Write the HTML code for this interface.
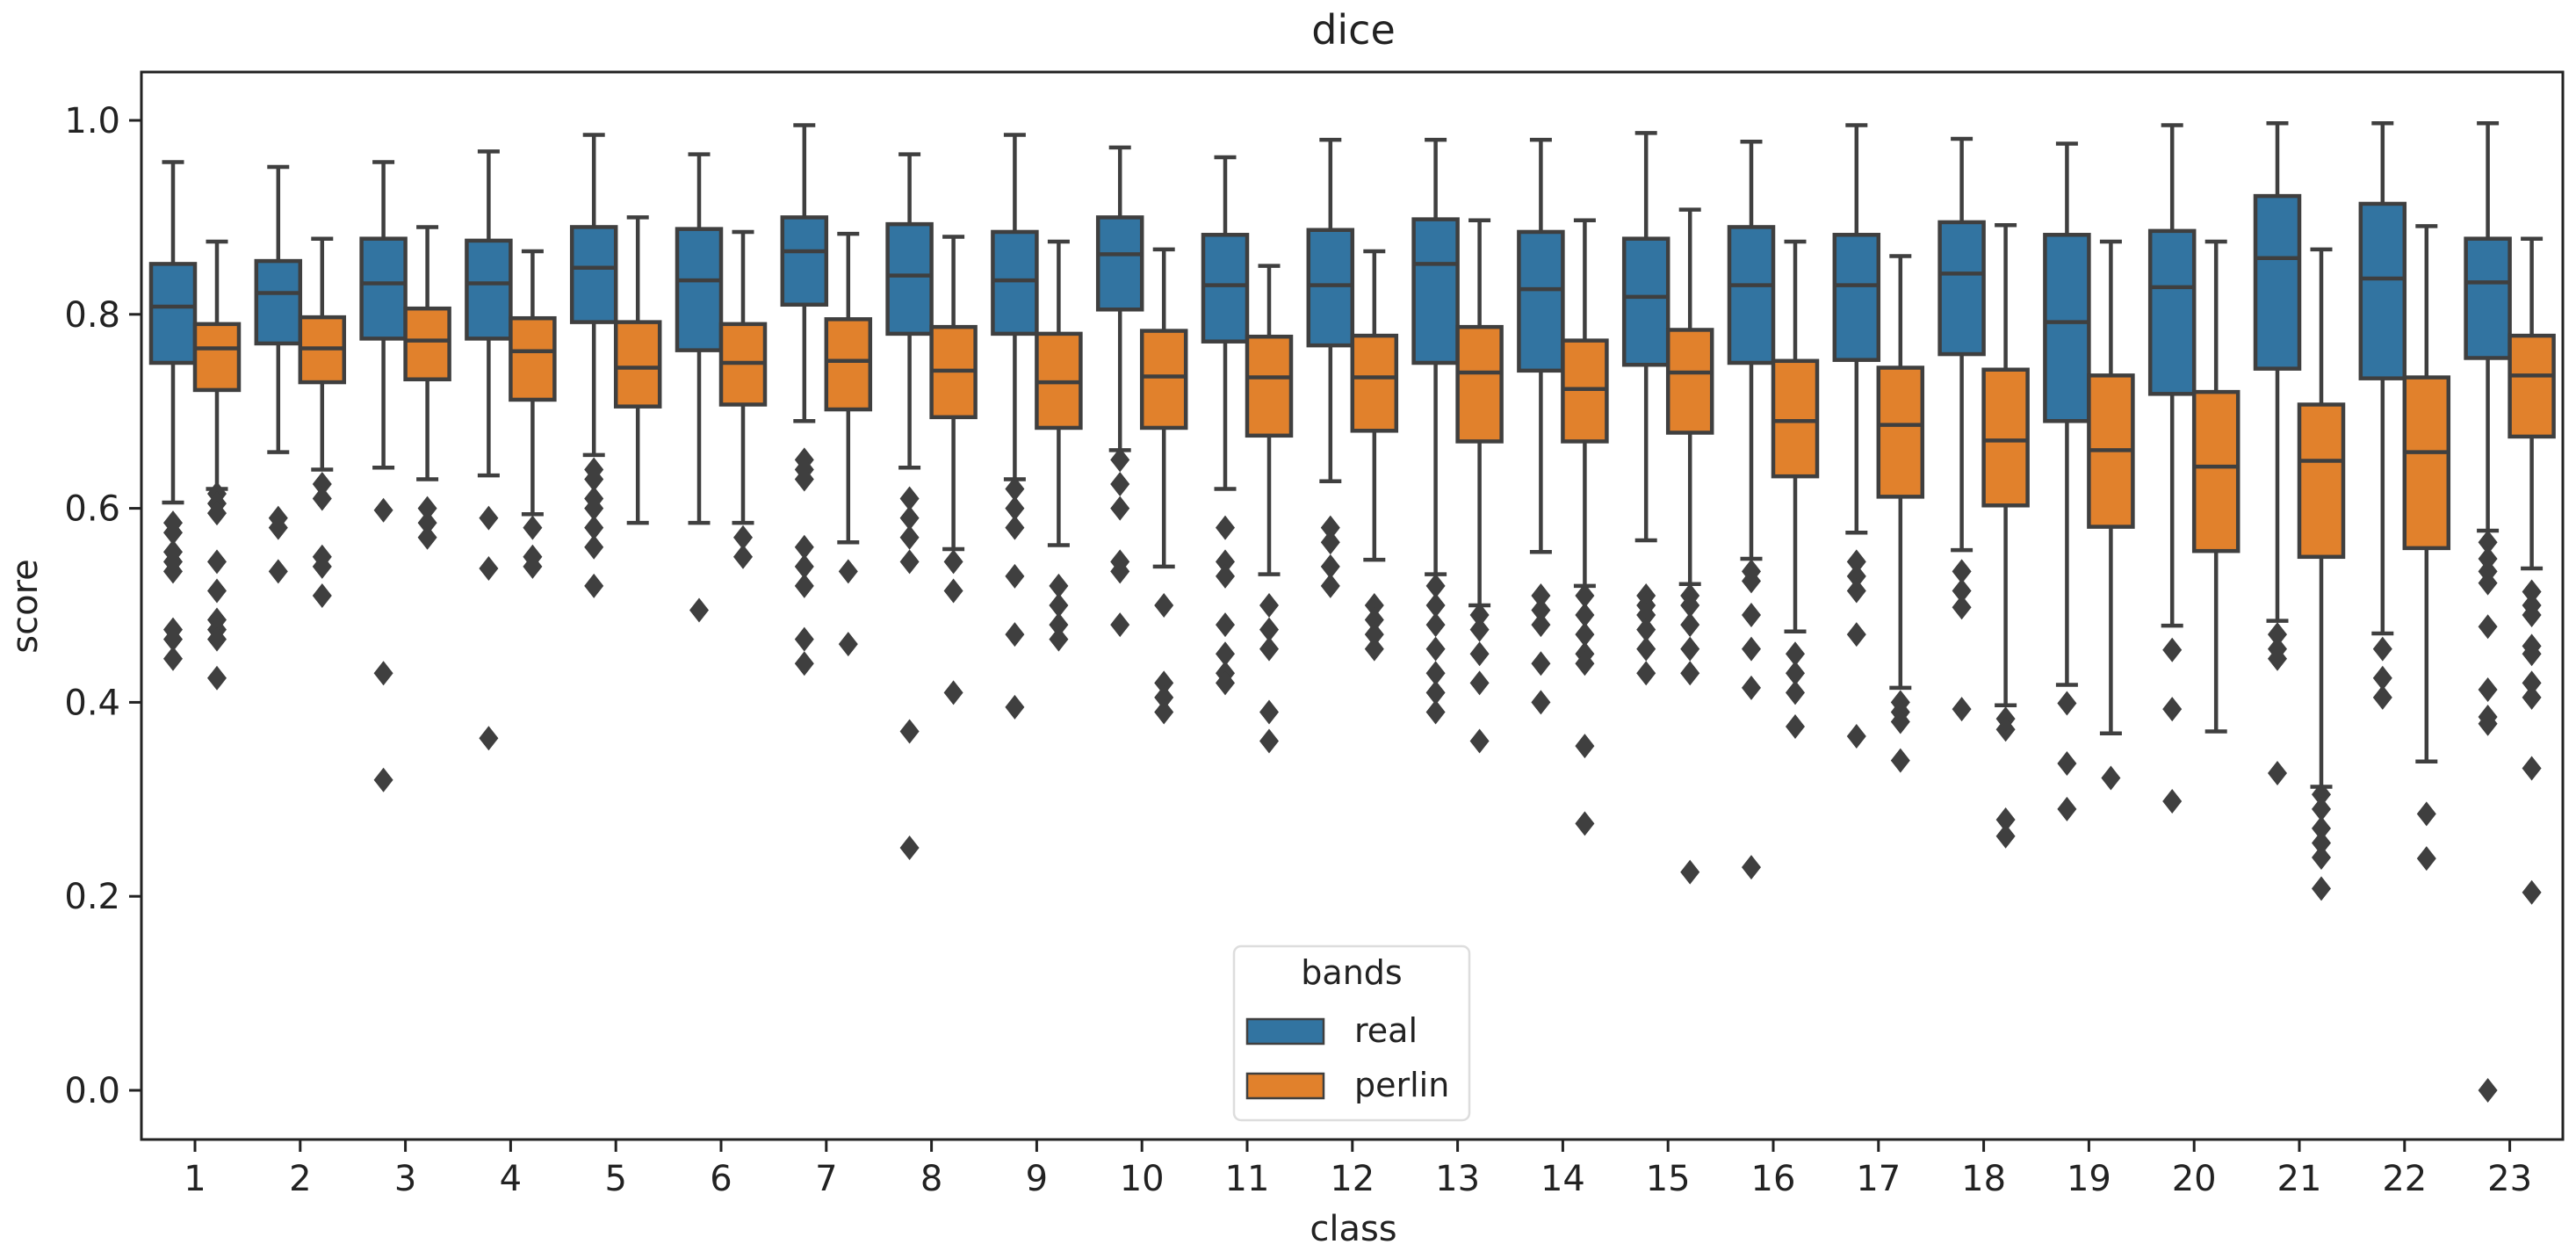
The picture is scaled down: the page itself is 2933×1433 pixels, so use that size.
<!DOCTYPE html>
<html><head><meta charset="utf-8"><style>
html,body{margin:0;padding:0;background:#fff;}
svg{display:block;font-family:"DejaVu Sans","Liberation Sans",sans-serif;}
</style></head><body>
<svg id="chart" width="2933" height="1433" viewBox="0 0 2933 1433" xmlns="http://www.w3.org/2000/svg">
<rect x="0" y="0" width="2933" height="1433" fill="#fff"/>
<text x="1541" y="50" font-size="46" text-anchor="middle" fill="#222">dice</text>
<text x="1541" y="1412" font-size="40" text-anchor="middle" fill="#222">class</text>
<text transform="translate(42,690) rotate(-90)" font-size="40" text-anchor="middle" fill="#222">score</text>
<g id="plot"></g>
<g id="axes"></g>
<g id="legend">
<rect x="1405" y="1077" width="268" height="198" rx="8" fill="#fff" fill-opacity="0.85" stroke="#ddd" stroke-width="2.5"/>
<text x="1539" y="1120" font-size="38" text-anchor="middle" fill="#222">bands</text>
<rect x="1420" y="1160" width="87" height="28" fill="#3274a1" stroke="#3f3f3f" stroke-width="2.5"/>
<text x="1542" y="1186" font-size="38" fill="#222">real</text>
<rect x="1420" y="1222" width="87" height="28" fill="#e1812c" stroke="#3f3f3f" stroke-width="2.5"/>
<text x="1542" y="1248" font-size="38" fill="#222">perlin</text>
</g>
</svg>
<script>
const categories = ["1","2","3","4","5","6","7","8","9","10","11","12","13","14","15","16","17","18","19","20","21","22","23"];
const yTicks = [0.0,0.2,0.4,0.6,0.8,1.0];
const yTickLabels = ["0.0","0.2","0.4","0.6","0.8","1.0"];
// [whiskerLow, q1, median, q3, whiskerHigh]
const realStats = [
[.606,.75,.808,.852,.957],[.658,.77,.822,.855,.952],[.642,.775,.832,.878,.957],[.634,.775,.832,.876,.968],
[.655,.792,.848,.89,.985],[.585,.763,.835,.888,.965],[.69,.81,.865,.9,.995],[.642,.78,.84,.893,.965],
[.63,.78,.835,.885,.985],[.66,.805,.862,.9,.972],[.62,.772,.83,.882,.962],[.628,.768,.83,.887,.98],
[.532,.75,.852,.898,.98],[.555,.742,.826,.885,.98],[.567,.748,.818,.878,.987],[.548,.75,.83,.89,.978],
[.575,.753,.83,.882,.995],[.557,.759,.842,.895,.981],[.418,.69,.792,.882,.976],[.479,.718,.828,.886,.995],
[.484,.744,.858,.922,.997],[.471,.734,.837,.914,.997],[.577,.755,.833,.878,.997]];
const perlinStats = [
[.62,.722,.765,.79,.875],[.64,.73,.765,.797,.878],[.63,.733,.773,.806,.89],[.594,.712,.762,.796,.865],
[.585,.705,.745,.792,.9],[.585,.707,.75,.79,.885],[.565,.702,.752,.795,.883],[.558,.694,.742,.787,.88],
[.562,.683,.73,.78,.875],[.54,.683,.736,.783,.867],[.532,.675,.735,.777,.85],[.547,.68,.735,.778,.865],
[.5,.669,.74,.787,.897],[.52,.669,.723,.773,.897],[.522,.678,.74,.784,.908],[.473,.633,.69,.752,.875],
[.415,.612,.686,.745,.86],[.397,.603,.67,.743,.892],[.368,.581,.66,.737,.875],[.37,.556,.643,.72,.875],
[.313,.55,.649,.707,.867],[.339,.559,.658,.735,.891],[.538,.674,.737,.778,.878]];
const realOutliers = [
[.585,.575,.555,.545,.535,.475,.465,.445],[.59,.58,.535],[.598,.43,.32],[.59,.538,.363],
[.64,.63,.61,.6,.58,.56,.52],[.495],[.65,.64,.63,.56,.54,.52,.465,.44],[.61,.59,.57,.545,.37,.25],
[.62,.6,.58,.53,.47,.395],[.65,.625,.6,.545,.535,.48],[.58,.545,.53,.48,.45,.43,.42],[.58,.565,.54,.52],
[.52,.5,.48,.455,.43,.41,.39],[.51,.495,.48,.44,.4],[.51,.5,.49,.475,.455,.43],[.535,.525,.49,.455,.415,.23],
[.545,.53,.515,.47,.365],[.535,.515,.498,.393],[.399,.337,.29],[.454,.393,.298],
[.47,.455,.445,.327],[.455,.425,.405],[.565,.548,.535,.523,.478,.413,.385,.378,0.0]];
const perlinOutliers = [
[.615,.605,.595,.545,.515,.485,.475,.465,.425],[.625,.61,.55,.54,.51],[.6,.585,.57],[.58,.55,.54],
[],[.57,.55],[.535,.46],[.545,.515,.41],
[.52,.5,.48,.465],[.5,.42,.405,.39],[.5,.475,.455,.39,.36],[.5,.485,.47,.455],
[.49,.475,.45,.42,.36],[.51,.49,.47,.45,.44,.355,.275],[.51,.5,.48,.455,.43,.225],[.45,.43,.41,.375],
[.4,.39,.38,.34],[.383,.372,.279,.262],[.322],[],
[.305,.29,.27,.255,.24,.208],[.285,.239],[.514,.5,.49,.458,.45,.42,.405,.332,.204]];

const NS="http://www.w3.org/2000/svg";
const AX={left:161,right:2918,top:82,bottom:1297};
function yScale(v){return 1241 - v*1104;}
function xScale(i){return 222 + i*119.8;}
const plot=document.getElementById('plot'), axes=document.getElementById('axes');
function mk(tag,attrs,parent){const e=document.createElementNS(NS,tag);for(const k in attrs)e.setAttribute(k,attrs[k]);parent.appendChild(e);return e;}
const EDGE="#3f3f3f", LW=4.5, BW=50;
function drawBox(stats,outs,cx,color,name){
  const [lo,q1,md,q3,hi]=stats;
  const g=mk('g',{},plot);
  
  
  const w1=mk('line',{x1:cx,x2:cx,y1:yScale(q3),y2:yScale(hi),stroke:EDGE,'stroke-width':LW},g);
  
  
  const w2=mk('line',{x1:cx,x2:cx,y1:yScale(q1),y2:yScale(lo),stroke:EDGE,'stroke-width':LW},g);
  
  
  const c1=mk('line',{x1:cx-BW/4,x2:cx+BW/4,y1:yScale(hi),y2:yScale(hi),stroke:EDGE,'stroke-width':LW},g);
  
  
  const c2=mk('line',{x1:cx-BW/4,x2:cx+BW/4,y1:yScale(lo),y2:yScale(lo),stroke:EDGE,'stroke-width':LW},g);
  
  
  const b=mk('rect',{x:cx-BW/2,y:yScale(q3),width:BW,height:yScale(q1)-yScale(q3),fill:color,stroke:EDGE,'stroke-width':LW},g);
  
  
  const m=mk('line',{x1:cx-BW/2,x2:cx+BW/2,y1:yScale(md),y2:yScale(md),stroke:EDGE,'stroke-width':LW},g);
  
  
  outs.forEach(v=>{const y=yScale(v);
    const p=mk('polygon',{points:`${cx},${y-14} ${cx+11},${y} ${cx},${y+14} ${cx-11},${y}`,fill:EDGE},g);
    
    
  });
}
categories.forEach((c,i)=>{
  const x=xScale(i);
  drawBox(realStats[i],realOutliers[i],x-25,"#3274a1",'box-real-class-'+c);
  drawBox(perlinStats[i],perlinOutliers[i],x+25,"#e1812c",'box-perlin-class-'+c);
  const t=mk('line',{x1:x,x2:x,y1:AX.bottom,y2:AX.bottom+14,stroke:'#222','stroke-width':3},axes);
  
  
  const l=mk('text',{x:x,y:AX.bottom+58,'font-size':40,'text-anchor':'middle',fill:'#222'},axes);
  l.textContent=c;
  
  
});
yTicks.forEach((v,i)=>{
  const y=yScale(v);
  const t=mk('line',{x1:AX.left-14,x2:AX.left,y1:y,y2:y,stroke:'#222','stroke-width':3},axes);
  
  
  const l=mk('text',{x:AX.left-24,y:y+14,'font-size':40,'text-anchor':'end',fill:'#222'},axes);
  l.textContent=yTickLabels[i];
  
  
});
const fr=mk('rect',{x:AX.left,y:AX.top,width:AX.right-AX.left,height:AX.bottom-AX.top,fill:'none',stroke:'#222','stroke-width':3},axes);


</script>
</body></html>
